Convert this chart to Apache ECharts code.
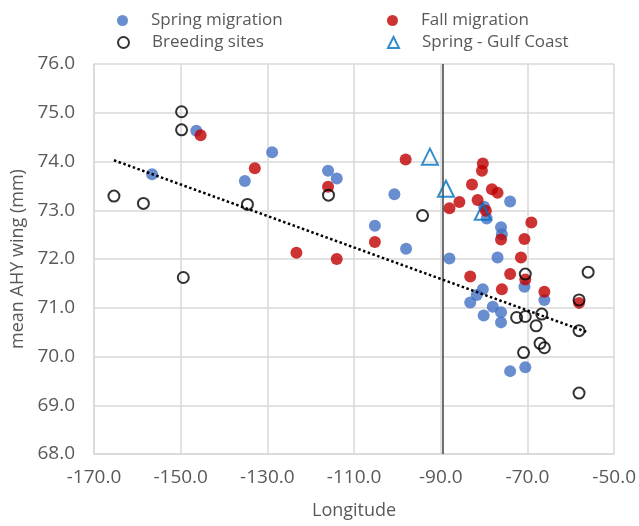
<!DOCTYPE html>
<html>
<head>
<meta charset="utf-8">
<script src="https://cdn.jsdelivr.net/npm/echarts@6/dist/echarts.min.js"></script>
<style>html,body{margin:0;padding:0;background:#fff;}#c{width:639px;height:526px;}</style>
</head>
<body>
<div id="c"></div>
<script>
// Spring migration (blue dots)
const springX = [-156.6,-146.4,-135.2,-128.9,-116.0,-114.0,-100.7,-105.2,-98.0,-88.0,-74.0,-80.0,-79.4,-76.1,-75.9,-76.9,-70.7,-80.3,-66.1,-83.2,-81.7,-78.0,-76.1,-80.1,-76.1,-70.5,-74.0];
const springY = [73.74,74.63,73.60,74.19,73.81,73.65,73.33,72.68,72.21,72.01,73.18,73.07,72.83,72.65,72.51,72.03,71.43,71.38,71.16,71.11,71.26,71.02,70.91,70.84,70.70,69.78,69.70];
// Fall migration (red dots)
const fallX = [-145.4,-132.9,-116.0,-123.3,-114.0,-105.2,-98.1,-88.0,-85.7,-82.8,-81.5,-80.3,-80.5,-78.2,-76.9,-79.6,-69.1,-76.1,-70.7,-71.5,-83.2,-74.0,-70.5,-75.9,-66.1,-58.1];
const fallY = [74.54,73.86,73.48,72.13,72.00,72.35,74.04,73.04,73.17,73.53,73.21,73.96,73.81,73.43,73.36,72.99,72.75,72.40,72.41,72.03,71.64,71.69,71.58,71.38,71.33,71.10];
// Breeding sites (open circles)
const breedX = [-149.8,-149.8,-165.4,-158.6,-134.6,-149.4,-115.9,-94.2,-70.5,-56.0,-58.1,-72.5,-70.5,-66.7,-68.0,-58.1,-67.1,-66.1,-70.9,-58.1];
const breedY = [75.02,74.65,73.29,73.14,73.12,71.62,73.31,72.89,71.69,71.73,71.16,70.80,70.82,70.87,70.63,70.53,70.27,70.18,70.08,69.25];
// Spring - Gulf Coast (open triangles)
const gulfX = [-92.5,-88.8,-80.3];
const gulfY = [74.10,73.44,72.97];
// reference vertical line longitude
const refLineX = [-89.6];
// axis ticks
const xTicks = [-170,-150,-130,-110,-90,-70,-50];
const yTicks = [68,69,70,71,72,73,74,75,76];

const pairs = (xs, ys) => xs.map((x, i) => [x, ys[i]]);

// linear trendline (least squares) for breeding sites
function trend(xs, ys) {
  const n = xs.length;
  const mx = xs.reduce((a, b) => a + b, 0) / n;
  const my = ys.reduce((a, b) => a + b, 0) / n;
  let sxy = 0, sxx = 0;
  for (let i = 0; i < n; i++) { sxy += (xs[i] - mx) * (ys[i] - my); sxx += (xs[i] - mx) ** 2; }
  const b = sxy / sxx, a = my - b * mx;
  const lo = Math.min(...xs), hi = Math.max(...xs);
  return [[lo, a + b * lo], [hi, a + b * hi]];
}

const FONT = 'Open Sans';
const TXT = '#595959';
const chart = echarts.init(document.getElementById('c'), null, { renderer: 'canvas' });

const legendBase = {
  orient: 'horizontal', itemWidth: 11, itemHeight: 11, itemGap: 10,
  textStyle: { fontFamily: FONT, fontSize: 17, color: TXT, padding: [0, 0, 0, 18] }
};

chart.setOption({
  animation: false,
  backgroundColor: '#fff',
  legend: [
    Object.assign({}, legendBase, { data: ['Spring migration'], left: 112, top: 7 }),
    Object.assign({}, legendBase, { data: ['Fall migration'], left: 382, top: 7 }),
    Object.assign({}, legendBase, { data: ['Breeding sites'], left: 112, top: 29 }),
    Object.assign({}, legendBase, { data: ['Spring - Gulf Coast'], left: 382, top: 29 })
  ],
  grid: { left: 94, right: 24, top: 64, bottom: 72, containLabel: false },
  xAxis: {
    type: 'value', min: xTicks[0], max: xTicks[xTicks.length - 1], interval: 20,
    name: 'Longitude', nameLocation: 'middle', nameGap: 48,
    nameTextStyle: { fontFamily: FONT, fontSize: 18, color: TXT },
    axisLine: { show: true, onZero: false, lineStyle: { color: '#d9d9d9', width: 1.5 } },
    axisTick: { show: false },
    axisLabel: { fontFamily: FONT, fontSize: 19, color: TXT, margin: 14, formatter: v => v.toFixed(1) },
    splitLine: { show: true, lineStyle: { color: '#d9d9d9', width: 1.5 } }
  },
  yAxis: {
    type: 'value', min: yTicks[0], max: yTicks[yTicks.length - 1], interval: 1,
    name: 'mean AHY wing (mm)', nameLocation: 'middle', nameGap: 59, nameRotate: 90,
    nameTextStyle: { fontFamily: FONT, fontSize: 18, color: TXT },
    axisLine: { show: true, onZero: false, lineStyle: { color: '#d9d9d9', width: 1.5 } },
    axisTick: { show: false },
    axisLabel: { fontFamily: FONT, fontSize: 19, color: TXT, margin: 19, formatter: v => v.toFixed(1) },
    splitLine: { show: true, lineStyle: { color: '#d9d9d9', width: 1.5 } }
  },
  series: [
    {
      name: 'Spring migration', type: 'scatter', symbol: 'circle', symbolSize: 12,
      itemStyle: { color: '#4472C4' }, data: pairs(springX, springY), z: 3,
      markLine: {
        silent: true, symbol: 'none', label: { show: false },
        lineStyle: { color: '#404040', width: 1.5, type: 'solid' },
        data: refLineX.map(v => ({ xAxis: v }))
      }
    },
    {
      name: 'Fall migration', type: 'scatter', symbol: 'circle', symbolSize: 12,
      itemStyle: { color: '#C00000' }, data: pairs(fallX, fallY), z: 4
    },
    {
      name: 'Breeding sites', type: 'scatter', symbol: 'circle', symbolSize: 11,
      itemStyle: { color: 'rgba(255,255,255,0)', borderColor: '#000', borderWidth: 2 },
      data: pairs(breedX, breedY), z: 5
    },
    {
      name: 'Spring - Gulf Coast', type: 'scatter', symbol: 'triangle', symbolSize: 16,
      itemStyle: { color: 'rgba(255,255,255,0)', borderColor: '#0070C0', borderWidth: 2 },
      data: pairs(gulfX, gulfY), z: 6
    },
    {
      name: 'trend', type: 'line', data: trend(breedX, breedY), symbol: 'none',
      lineStyle: { color: '#000', width: 2.5, type: [2.5, 2.5] }, z: 7, silent: true
    }
  ]
});
</script>
</body>
</html>
